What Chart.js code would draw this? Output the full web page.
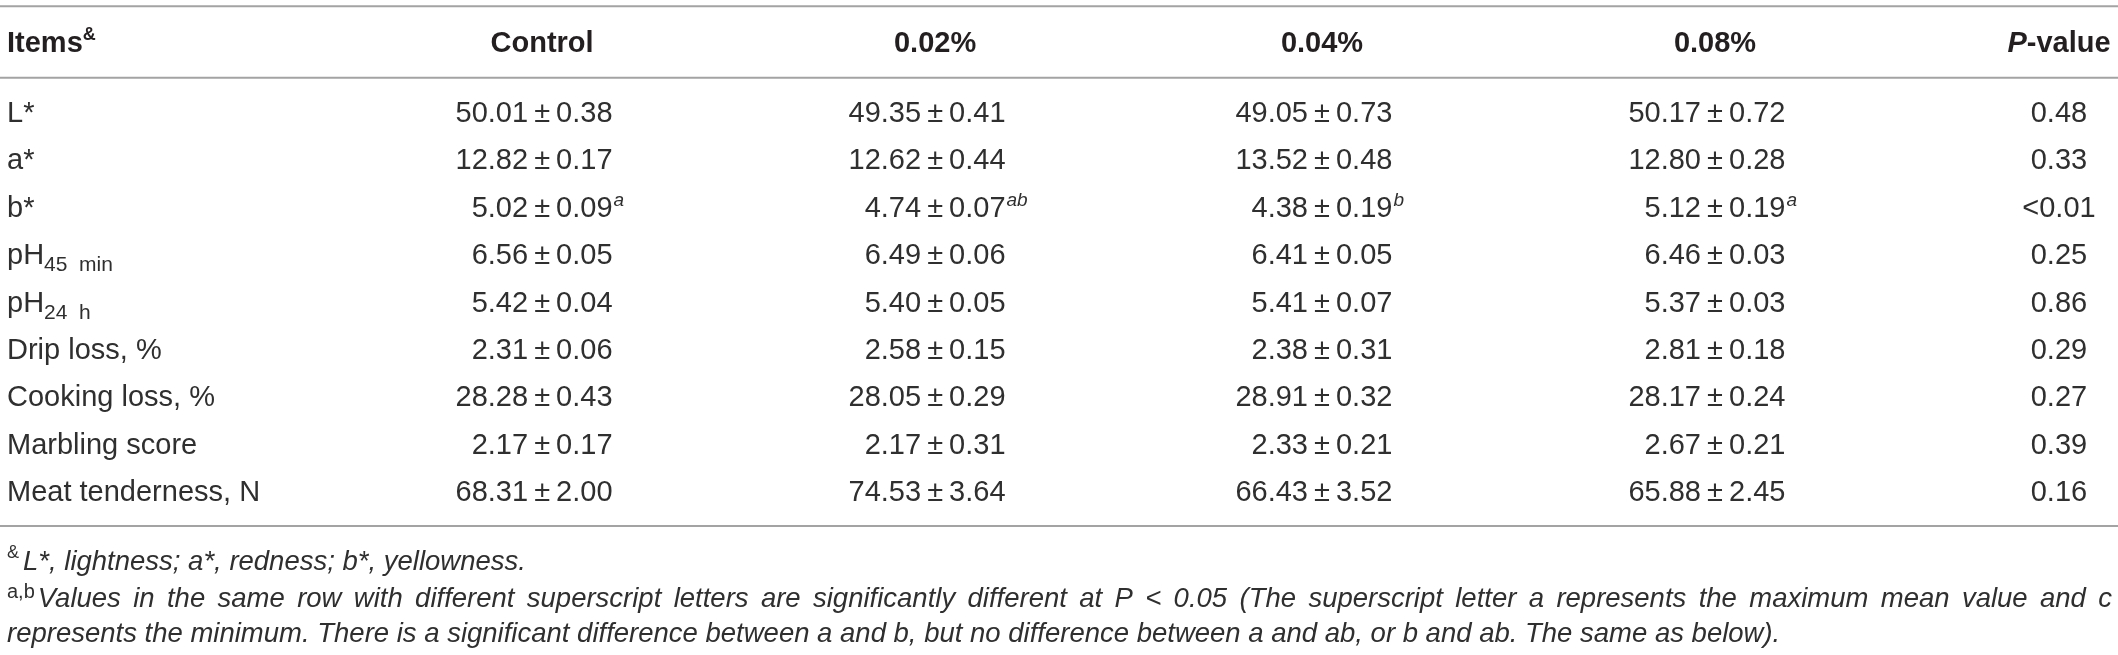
<!DOCTYPE html>
<html>
<head>
<meta charset="utf-8">
<script src="https://cdn.jsdelivr.net/npm/chart.js@4.4.1/dist/chart.umd.min.js"></script>
<style>
  html, body { margin: 0; background: #fff; }
  canvas { display: block; }
</style>
</head>
<body>
<canvas id="tbl" width="2118" height="655"></canvas>
<script>
// table content
const items = ["L*", "a*", "b*", "pH", "pH", "Drip loss, %", "Cooking loss, %", "Marbling score", "Meat tenderness, N"];
const itemSubs = ["", "", "", "45 min", "24 h", "", "", "", ""];
const groups = ["Control", "0.02%", "0.04%", "0.08%"];

const meanControl = [50.01, 12.82, 5.02, 6.56, 5.42, 2.31, 28.28, 2.17, 68.31];
const semControl  = [0.38, 0.17, 0.09, 0.05, 0.04, 0.06, 0.43, 0.17, 2.00];
const mean002 = [49.35, 12.62, 4.74, 6.49, 5.40, 2.58, 28.05, 2.17, 74.53];
const sem002  = [0.41, 0.44, 0.07, 0.06, 0.05, 0.15, 0.29, 0.31, 3.64];
const mean004 = [49.05, 13.52, 4.38, 6.41, 5.41, 2.38, 28.91, 2.33, 66.43];
const sem004  = [0.73, 0.48, 0.19, 0.05, 0.07, 0.31, 0.32, 0.21, 3.52];
const mean008 = [50.17, 12.80, 5.12, 6.46, 5.37, 2.81, 28.17, 2.67, 65.88];
const sem008  = [0.72, 0.28, 0.19, 0.03, 0.03, 0.18, 0.24, 0.21, 2.45];

const supControl = ["", "", "a", "", "", "", "", "", ""];
const sup002     = ["", "", "ab", "", "", "", "", "", ""];
const sup004     = ["", "", "b", "", "", "", "", "", ""];
const sup008     = ["", "", "a", "", "", "", "", "", ""];

const pValues = ["0.48", "0.33", "<0.01", "0.25", "0.86", "0.29", "0.27", "0.39", "0.16"];

const note1 = "L*, lightness; a*, redness; b*, yellowness.";
const note2 = "Values in the same row with different superscript letters are significantly different at P < 0.05 (The superscript letter a represents the maximum mean value and c";
const note3 = "represents the minimum. There is a significant difference between a and b, but no difference between a and ab, or b and ab. The same as below).";

// layout (fraction of table width where each column is anchored)
const colAnchor = [0, 0.2542, 0.4409, 0.6247, 0.8114, 0.9748];

const FAM = '"Liberation Sans", Arial, sans-serif';
const TEXT = "#231f20";
const BODY = "#2f2f2f";
const RULE = "#a3a3a3";

const means = [meanControl, mean002, mean004, mean008];
const sems = [semControl, sem002, sem004, sem008];
const sups = [supControl, sup002, sup004, sup008];

function runsWidth(ctx, runs) {
  let w = 0;
  runs.forEach(r => { ctx.font = r.font; w += ctx.measureText(r.t).width; });
  return w;
}
function drawRuns(ctx, x, y, runs) {
  runs.forEach(r => {
    ctx.font = r.font;
    ctx.textAlign = "left";
    ctx.fillText(r.t, x, y + (r.dy || 0));
    x += ctx.measureText(r.t).width;
  });
  return x;
}
function hline(ctx, x1, x2, y) {
  ctx.beginPath();
  ctx.moveTo(x1, y);
  ctx.lineTo(x2, y);
  ctx.stroke();
}

const tablePlugin = {
  id: "tableText",
  afterDatasetsDraw(chart) {
    const ctx = chart.ctx;
    const area = chart.chartArea;
    const body = "29px " + FAM;
    const bold = "bold 29px " + FAM;
    ctx.save();
    ctx.textBaseline = "alphabetic";

    // rules
    ctx.strokeStyle = RULE;
    ctx.lineWidth = 2;
    hline(ctx, 0, chart.width, area.top - 81);
    hline(ctx, 0, chart.width, area.top - 9.5);
    hline(ctx, 0, chart.width, area.bottom + 12);

    const headY = area.top - 35;
    chart.data.datasets.forEach((ds, c) => {
      const meta = chart.getDatasetMeta(c);
      const px = meta.data[0].x;
      // header cell
      ctx.fillStyle = TEXT;
      if (c === 0) {
        drawRuns(ctx, px, headY, [{ t: "Items", font: bold }, { t: "&", font: "bold 18px " + FAM, dy: -12 }]);
      } else if (c === 5) {
        const runs = [{ t: "P", font: "italic bold 29px " + FAM }, { t: "-value", font: bold }];
        drawRuns(ctx, px - runsWidth(ctx, runs) / 2, headY, runs);
      } else {
        ctx.font = bold;
        ctx.textAlign = "center";
        ctx.fillText(ds.label, px, headY);
      }

      ctx.fillStyle = BODY;
      meta.data.forEach((pt, r) => {
        const y = pt.y + 11;
        if (c === 0) {
          const x = drawRuns(ctx, pt.x, y, [{ t: items[r], font: body }]);
          if (itemSubs[r]) drawRuns(ctx, x, y + 7, [{ t: itemSubs[r].replace(" ", "  "), font: "21px " + FAM }]);
        } else if (c === 5) {
          ctx.font = body;
          ctx.textAlign = "center";
          ctx.fillText(pValues[r], pt.x, y);
        } else {
          const g = c - 1;
          ctx.font = body;
          const pmW = ctx.measureText("\u00b1").width;
          const gap = ctx.measureText(" ").width * 0.75;
          ctx.textAlign = "center";
          ctx.fillText("\u00b1", pt.x, y);
          ctx.textAlign = "right";
          ctx.fillText(means[g][r].toFixed(2), pt.x - pmW / 2 - gap, y);
          ctx.textAlign = "left";
          const rt = sems[g][r].toFixed(2);
          const rx = pt.x + pmW / 2 + gap;
          const rtW = ctx.measureText(rt).width;
          ctx.fillText(rt, rx, y);
          if (sups[g][r]) {
            ctx.font = "italic 19px " + FAM;
            ctx.fillText(sups[g][r], rx + rtW + 1, y - 11);
          }
        }
      });
    });

    // footnotes
    ctx.fillStyle = BODY;
    const noteFont = "italic 27.5px " + FAM;
    const supFont = "20px " + FAM;
    const left = area.left;
    const n1 = area.bottom + 56, n2 = area.bottom + 93, n3 = area.bottom + 128;
    let x = drawRuns(ctx, left, n1, [{ t: "&", font: "18px " + FAM, dy: -12 }]);
    drawRuns(ctx, x + 4, n1, [{ t: note1, font: noteFont }]);

    x = drawRuns(ctx, left, n2, [{ t: "a,b", font: supFont, dy: -9 }]) + 3;
    ctx.font = noteFont;
    const words = note2.split(" ");
    const wsum = words.reduce((s, w) => s + ctx.measureText(w).width, 0);
    const space = (area.right - x - wsum) / (words.length - 1);
    words.forEach(w => {
      ctx.textAlign = "left";
      ctx.fillText(w, x, n2);
      x += ctx.measureText(w).width + space;
    });

    drawRuns(ctx, left, n3, [{ t: note3, font: noteFont }]);
    ctx.restore();
  }
};

const columns = ["Items"].concat(groups, ["P-value"]);
const datasets = columns.map((name, c) => ({
  label: name,
  data: items.map((_, r) => ({ x: colAnchor[c], y: r })),
  pointRadius: 0,
  showLine: false
}));

new Chart(document.getElementById("tbl"), {
  type: "scatter",
  data: { labels: items.map((t, i) => t + itemSubs[i]), datasets },
  options: {
    responsive: false,
    devicePixelRatio: 1,
    animation: false,
    layout: { padding: { left: 7, right: 6, top: 87.3, bottom: 141.1 } },
    plugins: { legend: { display: false }, tooltip: { enabled: false } },
    scales: {
      x: { type: "linear", min: 0, max: 1, display: false },
      y: { type: "category", offset: true, display: false }
    }
  },
  plugins: [tablePlugin]
});
</script>
</body>
</html>
